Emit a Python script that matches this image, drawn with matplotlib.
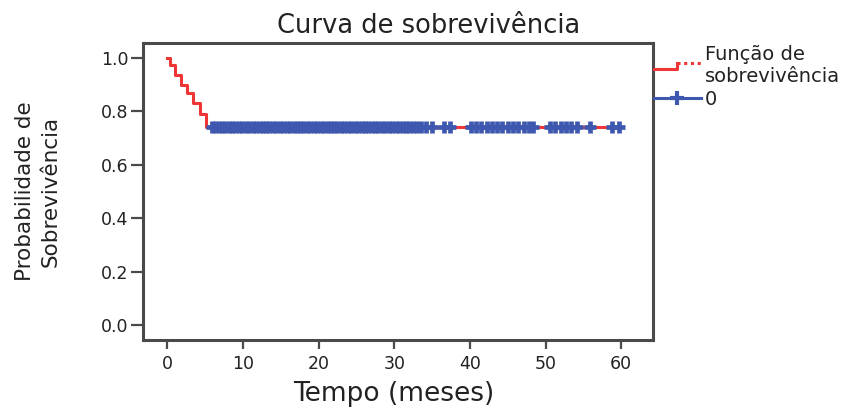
import matplotlib
matplotlib.use("Agg")
import matplotlib.pyplot as plt
from matplotlib.lines import Line2D
from matplotlib.legend_handler import HandlerBase

# Kaplan-Meier estimate (time in months, survival after each event)
km_time = [0, 0.4, 1.0, 1.8, 2.6, 3.4, 4.3, 5.1]
km_surv = [1.0, 0.974, 0.935, 0.900, 0.870, 0.830, 0.790, 0.741]
follow_up_end = 60.0

# censored observations (months)
censored = [5.9, 6.3, 6.8, 7.2, 7.7, 8.1, 8.6, 9.0, 9.5, 9.9, 10.4, 10.8,
            11.3, 11.7, 12.2, 12.6, 13.1, 13.5, 14.0, 14.4, 14.9, 15.3, 15.8,
            16.2, 16.7, 17.1, 17.6, 18.0, 18.5, 18.9, 19.4, 19.8, 20.3, 20.7,
            21.2, 21.6, 22.1, 22.5, 23.0, 23.4, 23.9, 24.3, 24.8, 25.2, 25.7,
            26.1, 26.6, 27.0, 27.5, 27.9, 28.4, 28.8, 29.3, 29.7, 30.2, 30.6,
            31.1, 31.5, 32.0, 32.5, 33.0, 33.6, 34.2, 35.0, 36.6, 37.4,
            40.1, 40.8, 41.5, 42.2, 42.9, 43.6, 44.3, 45.0, 45.7, 46.4, 47.1,
            47.8, 48.3, 50.6, 51.3, 52.0, 52.7, 53.4, 54.1, 55.9, 58.8, 59.7]

x_ticks = [0, 10, 20, 30, 40, 50, 60]
y_ticks = [0.0, 0.2, 0.4, 0.6, 0.8, 1.0]

red = "#EF3535"
blue = "#3D58AE"
frame = "#4a4a4a"

plt.rcParams["font.family"] = ["DejaVu Sans"]


class StepHandler(HandlerBase):
    # small step-shaped sample for the survival curve in the legend
    def create_artists(self, legend, orig_handle, xdescent, ydescent,
                       width, height, fontsize, trans):
        x0 = -xdescent
        yc = -ydescent + height / 2
        lo, hi = yc - height * 0.2, yc + height * 0.2
        solid = Line2D([x0, x0 + width * 0.5, x0 + width * 0.5],
                       [lo, lo, hi], color=red, lw=2.2, transform=trans)
        dotted = Line2D([x0 + width * 0.5, x0 + width],
                        [hi, hi], color=red, lw=2.2, ls=(0, (1, 1.2)),
                        transform=trans)
        return [solid, dotted]


fig = plt.figure(figsize=(8.53, 4.09), dpi=100)
ax = fig.add_axes([143 / 853, 1 - 340 / 409, 510 / 853, 297 / 409])

# step curve extended to end of follow-up
ax.step(km_time + [follow_up_end], km_surv + [km_surv[-1]], where="post",
        color=red, lw=2.2, zorder=2)

# censor marks sit on the curve level at their time
def surv_at(t):
    s = km_surv[0]
    for tt, ss in zip(km_time, km_surv):
        if tt <= t:
            s = ss
    return s

ax.plot(censored, [surv_at(t) for t in censored], ls="none", marker="+",
        ms=8, mew=3.4, color=blue, zorder=3)

ax.set_xlim(-3.2, 64.2)
ax.set_ylim(-0.056, 1.056)
ax.set_xticks(x_ticks)
ax.set_yticks(y_ticks)
ax.set_xticklabels([str(v) for v in x_ticks])
ax.set_yticklabels([f"{v:.1f}" for v in y_ticks])

for sp in ax.spines.values():
    sp.set_color(frame)
    sp.set_linewidth(2.2)
ax.tick_params(axis="x", length=6.5, width=1.6, color=frame, pad=4.5,
               labelsize=12.5, labelcolor="#222222")
ax.tick_params(axis="y", length=9, width=1.6, color=frame, pad=1.5,
               labelsize=12.5, labelcolor="#222222")

fig.text(429 / 853, 1 - 26 / 409, "Curva de sobrevivência", ha="center",
         va="center", fontsize=18.5, color="#222222")
fig.text(394 / 853, 1 - 401 / 409, "Tempo (meses)", ha="center",
         va="baseline", fontsize=19, color="#222222")
fig.text(38 / 853, 1 - 191 / 409, "Probabilidade de\nSobrevivência",
         rotation=90, ha="center", va="center", multialignment="center",
         fontsize=15.5, linespacing=1.35, color="#222222")

curve_handle = Line2D([], [], color=red)
censor_handle = Line2D([], [], color=blue, lw=2.2, marker="+", ms=10, mew=3)
fig.legend([curve_handle, censor_handle],
           ["Função de\nsobrevivência", "0"],
           handler_map={curve_handle: StepHandler()},
           loc="upper left", bbox_to_anchor=(654 / 853, 1 - 45 / 409),
           frameon=False, fontsize=14, handlelength=2.4, handletextpad=0.2,
           borderpad=0, borderaxespad=0, labelspacing=0.2, labelcolor="#222222")

fig.savefig("out.png", dpi=100)
